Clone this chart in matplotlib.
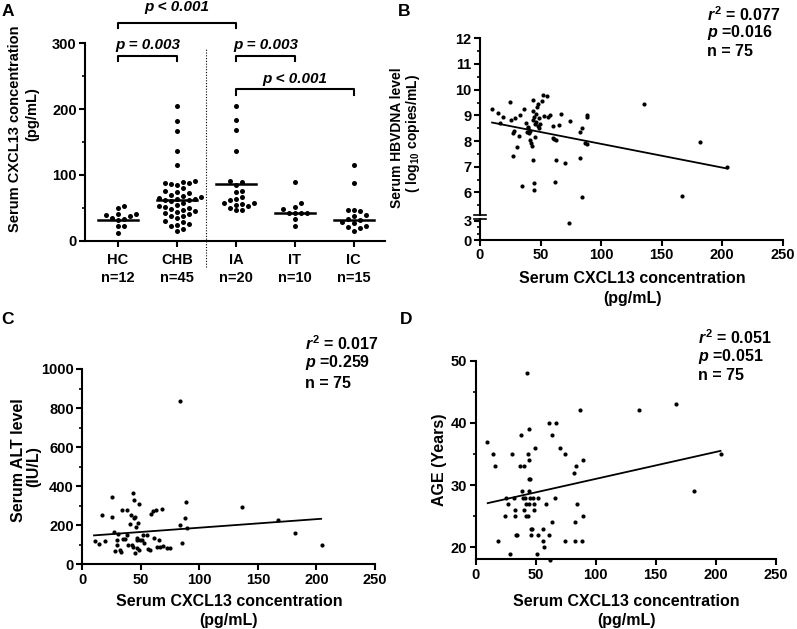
import numpy as np
import matplotlib
matplotlib.use("Agg")
import matplotlib.pyplot as plt
from matplotlib.ticker import MultipleLocator

plt.rcParams["font.family"] = ["Liberation Sans", "DejaVu Sans"]
plt.rcParams["font.weight"] = "bold"
plt.rcParams["mathtext.fontset"] = "custom"
plt.rcParams["mathtext.rm"] = "Liberation Sans:bold"
plt.rcParams["mathtext.it"] = "Liberation Sans:italic:bold"
plt.rcParams["mathtext.bf"] = "Liberation Sans:bold"

# ---- panel A: CXCL13 by group ----
groups = ["HC", "CHB", "IA", "IT", "IC"]
group_n = ["n=12", "n=45", "n=20", "n=10", "n=15"]
hc = [52, 50, 41, 39, 38, 40, 35, 33, 31, 22, 22, 12]
chb = [205, 182, 167, 137, 115, 90, 89, 88, 87, 86, 84, 80, 76, 74, 72,
       70, 68, 66, 65, 64, 63, 62, 62, 60, 58, 55, 52, 51, 50, 48,
       46, 45, 44, 42, 40, 38, 37, 35, 30, 28, 26, 24, 22, 18, 15]
ia = [205, 183, 168, 137, 90, 89, 85, 76, 74, 66, 64, 62, 58, 57, 56, 55,
      52, 50, 46, 46]
it = [89, 57, 51, 48, 42, 42, 42, 42, 33, 22]
ic = [115, 87, 47, 46, 45, 39, 38, 33, 32, 28, 27, 22, 21, 20, 15]
group_values = [hc, chb, ia, it, ic]
center_lines = [32, 62, 86, 42, 32]
# (left group, right group, bracket height, label height, label)
brackets = [(0, 2, 331, 355, "p < 0.001"), (0, 1, 281, 298, "p = 0.003"),
            (2, 3, 281, 298, "p = 0.003"), (2, 4, 230, 246, "p < 0.001")]

# ---- panel B: HBV DNA ----
hbv_x = [10.2, 14.6, 16.5, 19.3, 24.8, 25.6, 28.9, 27.0, 28.4, 27.0, 30.3, 32.5,
         33.0, 36.3, 37.7, 34.4, 39.0, 39.9, 40.7, 41.3, 42.0, 42.7, 43.5, 43.5,
         44.0, 44.9, 44.0, 45.4, 45.1, 44.6, 44.6, 46.0, 47.3, 47.6, 48.7, 48.2,
         49.0, 49.5, 50.9, 52.3, 55.0, 53.1, 55.9, 57.8, 60.6, 60.6, 61.1, 62.8,
         62.8, 62.0, 65.5, 67.2, 70.2, 74.3, 73.8, 82.6, 84.0, 82.6, 84.0, 86.7,
         88.1, 88.6, 88.6, 135.7, 181.7, 167.1, 203.7, 41.0, 46.5, 39.5]
hbv_y = [9.26, 9.10, 8.71, 8.92, 9.52, 8.81, 8.88, 8.32, 8.40, 7.42, 7.78, 8.19,
         9.01, 9.26, 8.71, 6.26, 8.36, 8.49, 8.32, 8.04, 7.91, 7.81, 9.61, 8.81,
         9.16, 8.94, 7.26, 8.68, 8.17, 6.36, 6.10, 9.07, 9.33, 8.58, 8.49, 9.46,
         8.90, 8.65, 9.56, 9.78, 9.74, 8.97, 8.92, 9.03, 8.58, 8.13, 8.06, 8.04,
         7.26, 6.42, 8.62, 9.04, 7.16, 8.79, 2.70, 8.36, 8.49, 7.32, 5.82, 7.91,
         7.88, 9.01, 8.94, 9.43, 7.97, 5.87, 7.00, 8.40, 8.75, 8.55]
hbv_fit_x = [10, 204]
hbv_fit_y = [8.72, 6.93]

# ---- panel C: ALT ----
alt_x = [10.8, 14.5, 16.5, 19.6, 25.1, 25.1, 27.3, 27.9, 29.3, 29.9, 30.8, 32.2,
         32.7, 33.6, 35.0, 36.4, 37.9, 38.4, 39.3, 40.7, 41.3, 42.1, 43.0, 43.6,
         44.1, 44.4, 45.0, 45.0, 45.6, 46.4, 46.4, 47.0, 47.8, 48.7, 48.7, 49.3,
         50.7, 51.5, 52.7, 55.0, 56.4, 57.8, 58.4, 60.6, 61.2, 62.9, 64.0, 65.8,
         66.3, 67.8, 69.2, 72.0, 74.9, 83.4, 83.4, 84.9, 87.7, 88.6, 89.7, 136.1,
         167.4, 181.7, 204.4]
alt_y = [119, 104, 253, 121, 343, 241, 167, 68, 97, 125, 154, 73,
         61, 278, 128, 128, 278, 150, 99, 206, 253, 99, 363, 90,
         329, 235, 244, 56, 193, 125, 133, 82, 210, 307, 73, 125,
         125, 150, 108, 150, 77, 73, 258, 275, 133, 278, 90, 125,
         90, 282, 94, 82, 82, 836, 201, 108, 235, 321, 184, 295,
         227, 162, 97]
alt_fit_x = [10, 204]
alt_fit_y = [148, 233]

# ---- panel D: age ----
age_x = [9.7, 14.2, 16.1, 18.9, 24.5, 25.3, 27.3, 28.7, 30.1, 31.5, 32.9, 32.9,
         33.4, 34.2, 36.5, 37.9, 38.4, 39.3, 40.4, 40.6, 41.2, 42.0, 42.0, 42.6,
         43.2, 43.2, 44.0, 44.0, 44.5, 44.8, 44.8, 45.4, 45.4, 45.9, 45.9, 46.8,
         47.6, 48.2, 48.7, 49.0, 50.9, 52.3, 52.3, 55.9, 55.9, 57.3, 58.2, 60.7,
         61.2, 62.1, 63.5, 63.5, 66.3, 67.1, 70.4, 74.1, 74.1, 82.1, 82.4, 82.9,
         83.8, 84.4, 87.1, 88.5, 89.1, 89.4, 135.9, 167.0, 181.8, 204.6]
age_y = [37, 35, 33, 21, 25, 28, 27, 19, 35, 28, 26, 25,
         22, 22, 33, 38, 29, 28, 33, 26, 28, 27, 25, 48,
         35, 25, 31, 27, 29, 39, 34, 31, 28, 23, 22, 23,
         28, 27, 26, 36, 19, 28, 22, 23, 21, 20, 27, 22,
         40, 18, 38, 24, 28, 40, 36, 35, 21, 32, 24, 21,
         33, 27, 42, 21, 25, 34, 42, 43, 29, 35]
age_fit_x = [10, 204]
age_fit_y = [27.1, 35.5]

W, H = 797, 629
fig = plt.figure(figsize=(W / 100, H / 100), dpi=100)


def px_axes(left, top, right, bottom):
    return fig.add_axes([left / W, 1 - bottom / H, (right - left) / W, (bottom - top) / H])


def ftext(x, y, s, **kw):
    fig.text(x / W, 1 - y / H, s, **kw)


def style(ax):
    for side in ["top", "right"]:
        ax.spines[side].set_visible(False)
    for side in ["left", "bottom"]:
        ax.spines[side].set_linewidth(1.5)
    ax.tick_params(which="major", direction="out", length=4.5, width=1.5,
                   labelsize=10.5, pad=1.5)
    ax.tick_params(which="minor", direction="out", length=2.5, width=1.2)
    ax.set_facecolor("none")


def swarm(vals, ypx, xpx, d):
    # simple beeswarm: put each point at the nearest free slot
    order = np.argsort(vals)
    offs = np.zeros(len(vals))
    placed = []
    for i in order:
        y = vals[i] * ypx
        k = 0
        while True:
            cands = [0.0] if k == 0 else [k * d, -k * d]
            ok = None
            for c in cands:
                if all((c - px) ** 2 + (y - py) ** 2 >= (0.95 * d) ** 2 for px, py in placed):
                    ok = c
                    break
            if ok is not None:
                placed.append((ok, y))
                offs[i] = ok / xpx
                break
            k += 1
    return offs


# ---------------- A ----------------
axA = px_axes(85, 43.3, 385, 240.7)
style(axA)
axA.set_xlim(-0.56, 4.53)
axA.set_ylim(0, 300)
axA.yaxis.set_major_locator(MultipleLocator(100))
axA.yaxis.set_minor_locator(MultipleLocator(50))
axA.set_xticks(range(len(groups)))
axA.set_xticklabels([f"{g}\n{n}" for g, n in zip(groups, group_n)], linespacing=1.45)
axA.tick_params(axis="x", pad=4)
ypx = 197.4 / 300
xpx = 59.0
for i, vals in enumerate(group_values):
    v = np.array(vals, dtype=float)
    off = swarm(v, ypx, xpx, 6.0)
    axA.scatter(i + off, v, s=13, color="black", zorder=3, linewidths=0, clip_on=False)
    axA.plot([i - 0.34, i + 0.34], [center_lines[i]] * 2, color="black", lw=1.8, zorder=4)
axA.plot([1.5, 1.5], [-40, 293], color="black", lw=0.8, ls=(0, (1, 1.5)), clip_on=False)
for g0, g1, h, th, lab in brackets:
    axA.plot([g0, g0, g1, g1], [h - 8, h, h, h - 8], color="black", lw=1.5, clip_on=False)
    axA.text((g0 + g1) / 2, th, lab, ha="center", va="center", fontsize=11,
             fontstyle="italic", fontweight="bold")
ftext(15, 129, "Serum CXCL13 concentration", rotation=90, ha="center", va="center", fontsize=10.5)
ftext(32, 114, "(pg/mL)", rotation=90, ha="center", va="center", fontsize=10.5)

# ---------------- B ----------------
axB = px_axes(480, 38.3, 782.7, 215)
axB2 = px_axes(480, 219, 782.7, 240)
for ax in (axB, axB2):
    style(ax)
    ax.set_xlim(0, 250)
axB.set_ylim(5.12, 12)
axB.spines["bottom"].set_visible(False)
axB.tick_params(axis="x", which="both", bottom=False, labelbottom=False)
axB.yaxis.set_major_locator(MultipleLocator(1))
axB.yaxis.set_minor_locator(MultipleLocator(0.5))
axB2.set_ylim(0, 3.3)
axB2.set_yticks([0, 3])
axB2.set_yticks([1, 2], minor=True)
axB2.xaxis.set_major_locator(MultipleLocator(50))
hx = np.array(hbv_x)
hy = np.array(hbv_y)
up = hy >= 4
axB.scatter(hx[up], hy[up], s=9, color="black", linewidths=0, zorder=3)
axB2.scatter(hx[~up], hy[~up], s=9, color="black", linewidths=0, zorder=3)
axB.plot(hbv_fit_x, hbv_fit_y, color="black", lw=1.3)
# axis break marks
axB.plot([-0.02, 0.02], [0, 0], transform=axB.transAxes, color="black", lw=1.2, clip_on=False)
axB2.plot([-0.02, 0.02], [1, 1], transform=axB2.transAxes, color="black", lw=1.2, clip_on=False)
ftext(397, 138, "Serum HBVDNA level", rotation=90, ha="center", va="center", fontsize=10)
ftext(413, 134, "( log$_{10}$ copies/mL)", rotation=90, ha="center", va="center", fontsize=10)
ftext(632, 279, "Serum CXCL13 concentration", ha="center", va="center", fontsize=11.5)
ftext(632, 298, "(pg/mL)", ha="center", va="center", fontsize=11.5)
ftext(707, 15, "$r^{2}$ = 0.077", ha="left", va="center", fontsize=11.5)
ftext(707, 33, "$p$ =0.016", ha="left", va="center", fontsize=11.5)
ftext(707, 52, "n = 75", ha="left", va="center", fontsize=11.5)

# ---------------- C ----------------
axC = px_axes(82.3, 369, 375, 564.3)
style(axC)
axC.set_xlim(0, 250)
axC.set_ylim(0, 1000)
axC.xaxis.set_major_locator(MultipleLocator(50))
axC.yaxis.set_major_locator(MultipleLocator(200))
axC.yaxis.set_minor_locator(MultipleLocator(100))
axC.scatter(alt_x, alt_y, s=9, color="black", linewidths=0, zorder=3)
axC.plot(alt_fit_x, alt_fit_y, color="black", lw=1.3)
ftext(19, 460, "Serum ALT level", rotation=90, ha="center", va="center", fontsize=11.5)
ftext(34, 467, "(IU/L)", rotation=90, ha="center", va="center", fontsize=11.5)
ftext(229, 601, "Serum CXCL13 concentration", ha="center", va="center", fontsize=11.5)
ftext(229, 620, "(pg/mL)", ha="center", va="center", fontsize=11.5)
ftext(305, 344, "$r^{2}$ = 0.017", ha="left", va="center", fontsize=11.5)
ftext(305, 363, "$p$ =0.259", ha="left", va="center", fontsize=11.5)
ftext(305, 383, "n = 75", ha="left", va="center", fontsize=11.5)

# ---------------- D ----------------
axD = px_axes(475.7, 360.7, 775.7, 559.3)
style(axD)
axD.set_xlim(0, 250)
axD.set_ylim(18.07, 50)
axD.xaxis.set_major_locator(MultipleLocator(50))
axD.set_yticks([20, 30, 40, 50])
axD.set_yticks([25, 35, 45], minor=True)
axD.scatter(age_x, age_y, s=9, color="black", linewidths=0, zorder=3, clip_on=False)
axD.plot(age_fit_x, age_fit_y, color="black", lw=1.3)
ftext(439, 460, "AGE (Years)", rotation=90, ha="center", va="center", fontsize=11.5)
ftext(626, 601, "Serum CXCL13 concentration", ha="center", va="center", fontsize=11.5)
ftext(626, 620, "(pg/mL)", ha="center", va="center", fontsize=11.5)
ftext(698, 338, "$r^{2}$ = 0.051", ha="left", va="center", fontsize=11.5)
ftext(698, 357, "$p$ =0.051", ha="left", va="center", fontsize=11.5)
ftext(698, 375, "n = 75", ha="left", va="center", fontsize=11.5)

# panel letters
for x, y, s in [(8, 11, "A"), (404, 11, "B"), (8, 320, "C"), (406, 320, "D")]:
    ftext(x, y, s, ha="center", va="center", fontsize=12.5)

fig.savefig("out.png", dpi=100)
